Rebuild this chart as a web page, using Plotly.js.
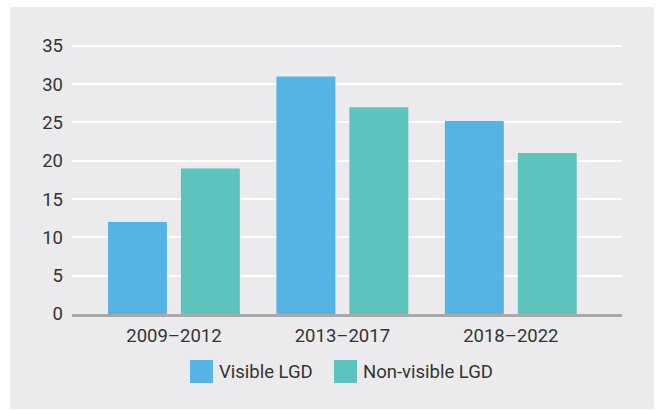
<!DOCTYPE html>
<html>
<head>
<meta charset="utf-8">
<script src="https://cdn.plot.ly/plotly-3.0.1.min.js"></script>
<style>html,body{margin:0;padding:0;background:#fff;}#chart{width:656px;height:410px;}</style>
</head>
<body>
<div id="chart"></div>
<script>
const categories = ["2009–2012", "2013–2017", "2018–2022"];
const seriesNames = ["Visible LGD", "Non-visible LGD"];
const visibleLGD = [12, 31, 25.2];
const nonVisibleLGD = [19, 27, 21];
const yTicks = [0, 5, 10, 15, 20, 25, 30, 35];
const colors = ["#55b3e5", "#5cc4bc"];

const FONT = 'Roboto, "Noto Sans", sans-serif';
const FS = 18.5;
const W = 656, H = 410;
const L = 72, R = 34, T = 42, B = 96;
const pw = W - L - R, ph = H - T - B;
const px = v => (v - L) / pw;
const py = v => (H - B - v) / ph;

const traces = [visibleLGD, nonVisibleLGD].map((vals, i) => ({
  type: "bar",
  x: categories,
  y: vals,
  name: seriesNames[i],
  marker: {color: colors[i]},
  hoverinfo: "x+y+name",
  showlegend: false
}));

// custom legend (large swatches)
const legendX = [190, 334];
const shapes = [{
  type: "rect", xref: "paper", yref: "paper",
  x0: px(10), x1: px(654), y0: py(409), y1: py(7),
  fillcolor: "#ebebed", line: {width: 0}, layer: "below"
}];
const annotations = [];
seriesNames.forEach((n, i) => {
  shapes.push({
    type: "rect", xref: "paper", yref: "paper",
    x0: px(legendX[i]), x1: px(legendX[i] + 23), y0: py(383), y1: py(360),
    fillcolor: colors[i], line: {width: 0}
  });
  annotations.push({
    xref: "paper", yref: "paper", x: px(legendX[i] + 27), y: py(371.5),
    xanchor: "left", yanchor: "middle", showarrow: false,
    text: n, font: {family: FONT, size: FS, color: "#333333"}
  });
});

const layout = {
  width: W, height: H,
  margin: {l: L, r: R, t: T, b: B, pad: 0},
  paper_bgcolor: "#ffffff",
  plot_bgcolor: "rgba(0,0,0,0)",
  font: {family: FONT, size: FS, color: "#333333"},
  barmode: "group",
  bargap: 0.134,
  bargroupgap: 0.192,
  showlegend: false,
  xaxis: {
    type: "category",
    range: [-0.605, 2.66],
    showgrid: false,
    showline: true, linecolor: "#a9a9a9", linewidth: 3,
    ticks: "", ticklabelstandoff: 3,
    tickfont: {family: FONT, size: FS, color: "#333333"},
    fixedrange: true
  },
  yaxis: {
    range: [0, 35.5],
    tickvals: yTicks,
    ticktext: yTicks.map(String),
    showgrid: true, gridcolor: "#ffffff", gridwidth: 2,
    zeroline: false, showline: false,
    ticks: "", ticklabelstandoff: 8,
    tickfont: {family: FONT, size: FS, color: "#333333"},
    fixedrange: true
  },
  shapes: shapes,
  annotations: annotations
};

Plotly.newPlot("chart", traces, layout, {displayModeBar: false, staticPlot: true});
</script>
</body>
</html>
